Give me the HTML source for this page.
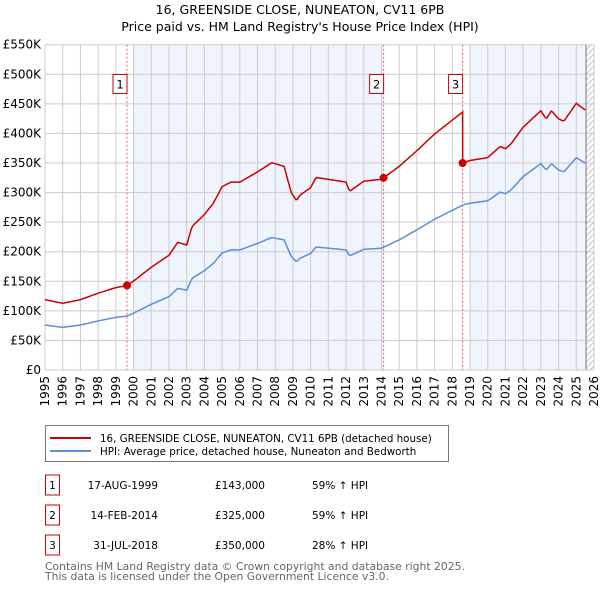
<!DOCTYPE html>
<html><head><meta charset="utf-8"><style>
body{margin:0;background:#fff;font-family:"DejaVu Sans","Liberation Sans",sans-serif;}
#wrap{position:relative;width:600px;height:590px;overflow:hidden}
svg text{font-family:"DejaVu Sans","Liberation Sans",sans-serif}
</style></head><body><div id="wrap">
<svg id="chart" width="600" height="590"></svg>
</div>
<script>
const hpiYears=[1995,1996,1997,1998,1999,1999.6,2000,2001,2002,2002.5,2003,2003.3,2004,2004.5,2005,2005.5,2006,2007,2007.8,2008.5,2008.9,2009.2,2009.4,2010,2010.3,2011,2012,2012.2,2013,2014,2015,2016,2017,2018,2018.6,2019,2020,2020.7,2021,2021.3,2022,2023,2023.3,2023.6,2024,2024.3,2025,2025.5];
const hpiValues=[76,72,76,83,89,91,96,111,124,138,135,155,168,180,198,203,203,214,224,220,192,183,189,197,208,206,203,193,204,206,220,237,255,270,279,282,286,301,298,304,327,349,338,349,338,335,359,350];
const saleYears=[1999.63,2014.12,2018.58];
const salePrices=[143,325,350];
const saleLabels=["1","2","3"];
const yTicks=[0,50,100,150,200,250,300,350,400,450,500,550];
const yTickLabels=["£0","£50K","£100K","£150K","£200K","£250K","£300K","£350K","£400K","£450K","£500K","£550K"];
const xTicks=[];for(let y=1995;y<=2026;y++)xTicks.push(y);

const svg=document.getElementById('chart');const NS='http://www.w3.org/2000/svg';
const L=45,R=594,T=44.7,B=370;
const X=y=>L+(y-1995)/(2026-1995)*(R-L);
const Y=v=>B-v/550*(B-T);
function el(t,a,p){const e=document.createElementNS(NS,t);for(const k in a)e.setAttribute(k,a[k]);(p||svg).appendChild(e);return e;}
function hpiAt(t){if(t<=hpiYears[0])return hpiValues[0];for(let i=1;i<hpiYears.length;i++){if(t<=hpiYears[i]){const f=(t-hpiYears[i-1])/(hpiYears[i]-hpiYears[i-1]);return hpiValues[i-1]+f*(hpiValues[i]-hpiValues[i-1]);}}return hpiValues[hpiValues.length-1];}
let s=el('rect',{x:X(2000),y:T,width:X(2014.12)-X(2000),height:B-T,fill:'#f0f4fc'});

s=el('rect',{x:X(2019),y:T,width:X(2025.55)-X(2019),height:B-T,fill:'#f0f4fc'});

const defs=el('defs',{});const pat=el('pattern',{id:'hatch',width:6,height:6,patternUnits:'userSpaceOnUse'},defs);
el('path',{d:'M0,6 L6,0',stroke:'#bbb','stroke-width':0.8},pat);
s=el('rect',{x:X(2025.55),y:T,width:R-X(2025.55),height:B-T,fill:'url(#hatch)'});

yTicks.forEach((v,i)=>{let g=el('line',{x1:L,x2:R,y1:Y(v),y2:Y(v),stroke:'#ccc','stroke-width':1});

let t=el('text',{x:L-4,y:Y(v)+4,'text-anchor':'end','font-size':12,fill:'#000'});t.textContent=yTickLabels[i];
});
xTicks.forEach(y=>{let g=el('line',{x1:X(y),x2:X(y),y1:T,y2:B,stroke:'#ccc','stroke-width':1});

let t=el('text',{x:0,y:0,'text-anchor':'end','font-size':12,fill:'#000',transform:`translate(${X(y)+4},${B+6}) rotate(-90)`});t.textContent=y;
});
let ln=el('line',{x1:X(2025.55),x2:X(2025.55),y1:T,y2:B,stroke:'#777','stroke-width':1});

saleYears.forEach((y,i)=>{let d=el('line',{x1:X(y),x2:X(y),y1:T,y2:B,stroke:'#e06070','stroke-width':1,'stroke-dasharray':'2,2'});

let r=el('rect',{x:X(y)-14,y:74.5,width:14,height:19,fill:'#fff',stroke:'#c00','stroke-width':1});

let t=el('text',{x:X(y)-7,y:88.5,'text-anchor':'middle','font-size':11.5});t.textContent=saleLabels[i];
});
let hp='',rp='';const step=1/12;
for(let t=1995;t<=2025.55+1e-9;t+=step){const h=hpiAt(t);hp+=(hp?'L':'M')+X(t).toFixed(1)+','+Y(h).toFixed(1);
let k=0;for(let i=0;i<saleYears.length;i++)if(t>=saleYears[i])k=i;
let rv=h*salePrices[k]/hpiAt(saleYears[k]);
if(k>0&&t<saleYears[k]+step&&t>=saleYears[k]){const pv=h*salePrices[k-1]/hpiAt(saleYears[k-1]);rp+='L'+X(saleYears[k]).toFixed(1)+','+Y(pv).toFixed(1);}
rp+=(rp?'L':'M')+X(t).toFixed(1)+','+Y(rv).toFixed(1);}
let p=el('path',{d:hp,fill:'none',stroke:'#5b8fd6','stroke-width':1.5});
p=el('path',{d:rp,fill:'none',stroke:'#cc0000','stroke-width':1.5});
saleYears.forEach((y,i)=>{let c=el('circle',{cx:X(y),cy:Y(salePrices[i]),r:4,fill:'#cc0000'});});
let t=el('text',{x:300,y:14,'text-anchor':'middle','font-size':12.5});t.textContent='16, GREENSIDE CLOSE, NUNEATON, CV11 6PB';
t=el('text',{x:300,y:31,'text-anchor':'middle','font-size':12.5});t.textContent="Price paid vs. HM Land Registry's House Price Index (HPI)";
let lg=el('g',{});
el('rect',{x:45.5,y:425.5,width:403,height:36,fill:'#fff',stroke:'#777'},lg);
el('line',{x1:50,x2:91,y1:438,y2:438,stroke:'#cc0000','stroke-width':2},lg);
el('line',{x1:50,x2:91,y1:451,y2:451,stroke:'#5b8fd6','stroke-width':2},lg);
t=el('text',{x:100,y:442,'font-size':10.3},lg);t.textContent='16, GREENSIDE CLOSE, NUNEATON, CV11 6PB (detached house)';
t=el('text',{x:100,y:455,'font-size':10.3},lg);t.textContent='HPI: Average price, detached house, Nuneaton and Bedworth';
const rowsDate=['17-AUG-1999','14-FEB-2014','31-JUL-2018'];const rowsPrice=['£143,000','£325,000','£350,000'];const rowsPct=['59% ↑ HPI','59% ↑ HPI','28% ↑ HPI'];
[0,1,2].forEach(i=>{const cy=483+i*30;
let r=el('rect',{x:45.5,y:cy-8,width:14,height:20,fill:'#fff',stroke:'#c00'});
let a=el('text',{x:52.5,y:cy+6,'text-anchor':'middle','font-size':10.5});a.textContent=saleLabels[i];
a=el('text',{x:158,y:cy+6,'text-anchor':'end','font-size':10.5});a.textContent=rowsDate[i];
a=el('text',{x:265,y:cy+6,'text-anchor':'end','font-size':10.5});a.textContent=rowsPrice[i];
a=el('text',{x:312,y:cy+6,'font-size':10.5});a.textContent=rowsPct[i];});
t=el('text',{x:45,y:570,'font-size':10.8,fill:'#666'});t.textContent='Contains HM Land Registry data © Crown copyright and database right 2025.';
t=el('text',{x:45,y:580,'font-size':10.8,fill:'#666'});t.textContent='This data is licensed under the Open Government Licence v3.0.';
</script></body></html>
